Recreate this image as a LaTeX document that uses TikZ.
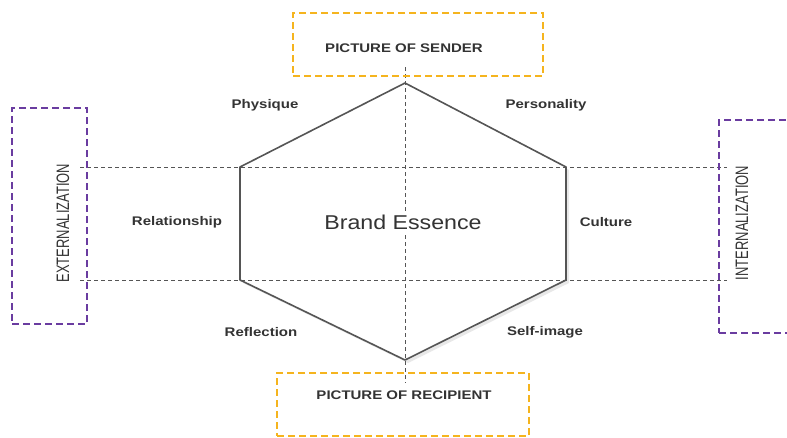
\documentclass[tikz,border=0pt]{standalone}
\usepackage{fontspec}
\setmainfont{Liberation Sans}
\newfontfamily\facetfont{Liberation Sans}[FakeStretch=1.2]
\newfontfamily\essencefont{Liberation Sans}[FakeStretch=1.16]
\newfontfamily\sidefont{Liberation Sans}[FakeStretch=0.72]
\usepackage{tikz}
\usetikzlibrary{shadows,positioning}
\definecolor{textgray}{HTML}{333333}
\definecolor{linegray}{HTML}{555555}
\definecolor{boxyellow}{HTML}{F5B41E}
\definecolor{boxpurple}{HTML}{6A3CA0}
\tikzset{
  facet/.style={font={\facetfont\bfseries\fontsize{12.5}{14}\selectfont}, text=textgray, inner sep=1pt},
  sidelabel/.style={font={\sidefont\fontsize{18}{20}\selectfont}, text=textgray, rotate=90, inner sep=1pt},
  pictbox/.style={draw=boxyellow, line width=1.6pt, dash pattern=on 7pt off 4pt},
  sidebox/.style={draw=boxpurple, line width=1.6pt, dash pattern=on 7pt off 4pt},
  guide/.style={draw=linegray, line width=0.8pt, dash pattern=on 4pt off 3pt},
  hexline/.style={draw=linegray, line width=1.6pt, line join=round}
}
\begin{document}
\begin{tikzpicture}[x=1pt, y=-1pt]
        \clip (0,0) rectangle (787,437);
        % Hexagon corners
        \coordinate (hexN) at (405,83);
        \coordinate (hexNE) at (566,167);
        \coordinate (hexSE) at (566,280);
        \coordinate (hexS) at (405,360);
        \coordinate (hexSW) at (240,280);
        \coordinate (hexNW) at (240,167);
        % Ends of the guide lines
        \coordinate (upperL) at (80,167);
        \coordinate (upperR) at (727,167);
        \coordinate (lowerL) at (80,280);
        \coordinate (lowerR) at (727,280);
        \coordinate (axisT) at (405,67);
        \coordinate (axisB) at (405,383);

        \path[fill=white, drop shadow={opacity=0.18, shadow xshift=3pt, shadow yshift=-3pt}]
            (hexN) -- (hexNE) -- (hexSE) -- (hexS) -- (hexSW) -- (hexNW) -- cycle;

        % Dashed guides
        \draw[guide] (upperL) -- (upperR);
        \draw[guide] (lowerL) -- (lowerR);
        \draw[guide] (axisT) -- (axisB);

        \draw[hexline] (hexN) -- (hexNE) -- (hexSE) -- (hexS) -- (hexSW) -- (hexNW) -- cycle;

        \node[fill=white, inner sep=3pt, text=textgray, font={\essencefont\fontsize{20}{22}\selectfont}] (essence) at (403,222) {Brand Essence};

        % Frames
        \node[pictbox, minimum width=250pt, minimum height=63pt] (senderbox) at (418,44.5) {};
        \node[pictbox, minimum width=252pt, minimum height=63pt] (recipientbox) at (403,404.5) {};
        \node[sidebox, minimum width=75pt, minimum height=216pt] (extbox) at (49.5,216) {};
        \node[sidebox, minimum width=81pt, minimum height=213pt] (intbox) at (759.5,226.5) {};

        % Labels
        \node[facet] (sender) at (404,48) {PICTURE OF SENDER};
        \node[facet] (recipient) at (404,395) {PICTURE OF RECIPIENT};
        \node[sidelabel] (ext) at (63,223) {EXTERNALIZATION};
        \node[sidelabel] (int) at (742,223) {INTERNALIZATION};
        \node[facet] (physique) at (265,105) {Physique};
        \node[facet] (personality) at (546,105) {Personality};
        \node[facet] (relationship) at (177,222) {Relationship};
        \node[facet] (culture) at (606,222) {Culture};
        \node[facet] (reflection) at (261,332) {Reflection};
        \node[facet] (selfimage) at (545,332) {Self-image};
    \end{tikzpicture}
\end{document}
